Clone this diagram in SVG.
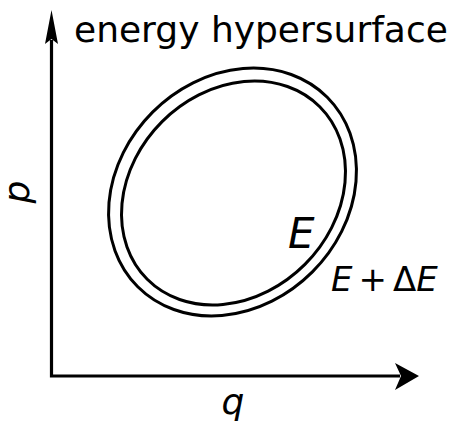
<svg xmlns="http://www.w3.org/2000/svg" width="455" height="421" viewBox="0 0 455 421">
<style>
.ln{fill:none;stroke:#000;stroke-width:3.2}
.ah{fill:#000;stroke:none}
.curve{fill:none;stroke:#000;stroke-width:3}
.t{font-family:"DejaVu Sans",sans-serif;fill:#000}
.i{font-family:"DejaVu Sans",sans-serif;font-style:italic;fill:#000}
</style>
<rect width="455" height="421" fill="#fff"/>
<g id="axes">
<path class="ln" d="M51.5,40 V376 H400" stroke-linejoin="miter"/>
<path class="ah" d="M51.5,10 L58,44 L51.5,39 L45,44 Z"/>
<path class="ah" d="M419,376 L395,363 L401,376 L395,390 Z"/>
</g>
<g id="surface-outer">
<ellipse class="curve" cx="232.5" cy="192" rx="134" ry="113" transform="rotate(-45 232.5 192)"/>
</g>
<g id="surface-inner">
<ellipse class="curve" cx="233.5" cy="193" rx="122" ry="101" transform="rotate(-45 233.5 193)"/>
</g>
<g id="labels">
<text class="t" x="74" y="42" font-size="36">energy hypersurface</text>
<text class="i" x="29" y="192" font-size="36" text-anchor="middle" transform="rotate(-90 29 192)">p</text>
<text class="i" x="233" y="414" font-size="36" text-anchor="middle">q</text>
<text class="i" x="288" y="248" font-size="42">E</text>
<text class="i" x="331" y="291" font-size="34">E<tspan dx="6" font-style="normal">+</tspan><tspan dx="6" font-style="normal">Δ</tspan>E</text>
</g>
</svg>
